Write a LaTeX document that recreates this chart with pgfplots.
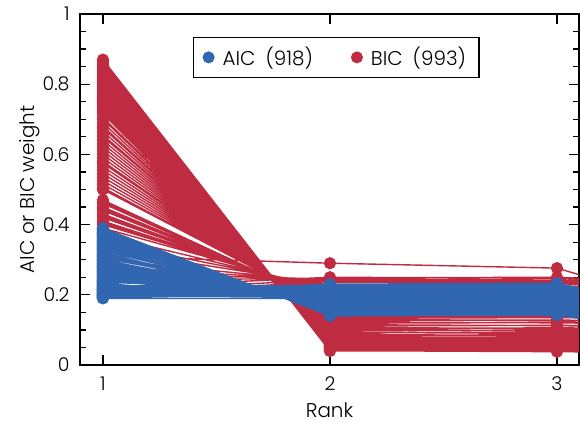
\documentclass[border=0pt]{standalone}
\usepackage{fontspec}
\setmainfont{Poppins}[UprightFont=* Light]
\usepackage{pgfplots}
\pgfplotsset{compat=1.18}
\usepackage{pgfplotstable}
\definecolor{aicblue}{HTML}{3166B0}
\definecolor{bicred}{HTML}{BF2B40}

\pgfplotstableread[row sep=\\]{
x y\\
1 0.870\\ 2 0.040\\ 3 0.042\\ 4 0.035\\ nan nan\\
1 0.865\\ 2 0.041\\ 3 0.038\\ 4 0.033\\ nan nan\\
1 0.860\\ 2 0.042\\ 3 0.045\\ 4 0.040\\ nan nan\\
1 0.855\\ 2 0.044\\ 3 0.041\\ 4 0.036\\ nan nan\\
1 0.850\\ 2 0.045\\ 3 0.048\\ 4 0.043\\ nan nan\\
1 0.845\\ 2 0.046\\ 3 0.043\\ 4 0.038\\ nan nan\\
1 0.840\\ 2 0.047\\ 3 0.050\\ 4 0.045\\ nan nan\\
1 0.835\\ 2 0.048\\ 3 0.046\\ 4 0.041\\ nan nan\\
1 0.830\\ 2 0.049\\ 3 0.053\\ 4 0.048\\ nan nan\\
1 0.825\\ 2 0.051\\ 3 0.049\\ 4 0.044\\ nan nan\\
1 0.820\\ 2 0.052\\ 3 0.056\\ 4 0.051\\ nan nan\\
1 0.815\\ 2 0.053\\ 3 0.051\\ 4 0.046\\ nan nan\\
1 0.810\\ 2 0.054\\ 3 0.058\\ 4 0.053\\ nan nan\\
1 0.805\\ 2 0.055\\ 3 0.053\\ 4 0.048\\ nan nan\\
1 0.800\\ 2 0.056\\ 3 0.060\\ 4 0.055\\ nan nan\\
1 0.795\\ 2 0.058\\ 3 0.055\\ 4 0.050\\ nan nan\\
1 0.790\\ 2 0.059\\ 3 0.063\\ 4 0.058\\ nan nan\\
1 0.785\\ 2 0.060\\ 3 0.058\\ 4 0.053\\ nan nan\\
1 0.780\\ 2 0.061\\ 3 0.065\\ 4 0.060\\ nan nan\\
1 0.775\\ 2 0.062\\ 3 0.060\\ 4 0.055\\ nan nan\\
1 0.770\\ 2 0.063\\ 3 0.067\\ 4 0.062\\ nan nan\\
1 0.765\\ 2 0.065\\ 3 0.062\\ 4 0.057\\ nan nan\\
1 0.760\\ 2 0.066\\ 3 0.070\\ 4 0.065\\ nan nan\\
1 0.755\\ 2 0.067\\ 3 0.064\\ 4 0.059\\ nan nan\\
1 0.750\\ 2 0.068\\ 3 0.072\\ 4 0.067\\ nan nan\\
1 0.745\\ 2 0.069\\ 3 0.066\\ 4 0.061\\ nan nan\\
1 0.740\\ 2 0.070\\ 3 0.074\\ 4 0.069\\ nan nan\\
1 0.735\\ 2 0.072\\ 3 0.069\\ 4 0.064\\ nan nan\\
1 0.730\\ 2 0.073\\ 3 0.077\\ 4 0.072\\ nan nan\\
1 0.725\\ 2 0.074\\ 3 0.071\\ 4 0.066\\ nan nan\\
1 0.720\\ 2 0.075\\ 3 0.079\\ 4 0.074\\ nan nan\\
1 0.715\\ 2 0.077\\ 3 0.081\\ 4 0.075\\ nan nan\\
1 0.705\\ 2 0.081\\ 3 0.078\\ 4 0.072\\ nan nan\\
1 0.700\\ 2 0.083\\ 3 0.087\\ 4 0.081\\ nan nan\\
1 0.690\\ 2 0.087\\ 3 0.084\\ 4 0.078\\ nan nan\\
1 0.680\\ 2 0.091\\ 3 0.094\\ 4 0.088\\ nan nan\\
1 0.675\\ 2 0.093\\ 3 0.090\\ 4 0.084\\ nan nan\\
1 0.665\\ 2 0.097\\ 3 0.100\\ 4 0.094\\ nan nan\\
1 0.655\\ 2 0.101\\ 3 0.098\\ 4 0.092\\ nan nan\\
1 0.650\\ 2 0.103\\ 3 0.106\\ 4 0.100\\ nan nan\\
1 0.640\\ 2 0.107\\ 3 0.104\\ 4 0.098\\ nan nan\\
1 0.630\\ 2 0.111\\ 3 0.113\\ 4 0.107\\ nan nan\\
1 0.620\\ 2 0.115\\ 3 0.112\\ 4 0.106\\ nan nan\\
1 0.610\\ 2 0.119\\ 3 0.121\\ 4 0.115\\ nan nan\\
1 0.600\\ 2 0.123\\ 3 0.120\\ 4 0.114\\ nan nan\\
1 0.590\\ 2 0.127\\ 3 0.128\\ 4 0.122\\ nan nan\\
1 0.580\\ 2 0.131\\ 3 0.126\\ 4 0.120\\ nan nan\\
1 0.575\\ 2 0.133\\ 3 0.135\\ 4 0.129\\ nan nan\\
1 0.565\\ 2 0.137\\ 3 0.139\\ 4 0.133\\ nan nan\\
1 0.555\\ 2 0.141\\ 3 0.143\\ 4 0.137\\ nan nan\\
1 0.545\\ 2 0.145\\ 3 0.148\\ 4 0.142\\ nan nan\\
1 0.535\\ 2 0.149\\ 3 0.152\\ 4 0.146\\ nan nan\\
1 0.525\\ 2 0.153\\ 3 0.156\\ 4 0.150\\ nan nan\\
1 0.515\\ 2 0.157\\ 3 0.160\\ 4 0.154\\ nan nan\\
1 0.505\\ 2 0.161\\ 3 0.164\\ 4 0.158\\ nan nan\\
1 0.500\\ 2 0.163\\ 3 0.166\\ 4 0.160\\ nan nan\\
1 0.470\\ 2 0.170\\ 3 0.172\\ 4 0.166\\ nan nan\\
1 0.465\\ 2 0.172\\ 3 0.175\\ 4 0.169\\ nan nan\\
1 0.460\\ 2 0.175\\ 3 0.178\\ 4 0.172\\ nan nan\\
1 0.450\\ 2 0.180\\ 3 0.182\\ 4 0.176\\ nan nan\\
1 0.445\\ 2 0.182\\ 3 0.185\\ 4 0.179\\ nan nan\\
1 0.440\\ 2 0.185\\ 3 0.188\\ 4 0.182\\ nan nan\\
1 0.430\\ 2 0.190\\ 3 0.192\\ 4 0.186\\ nan nan\\
1 0.425\\ 2 0.192\\ 3 0.195\\ 4 0.189\\ nan nan\\
1 0.420\\ 2 0.195\\ 3 0.198\\ 4 0.192\\ nan nan\\
1 0.410\\ 2 0.200\\ 3 0.202\\ 4 0.196\\ nan nan\\
1 0.405\\ 2 0.202\\ 3 0.205\\ 4 0.199\\ nan nan\\
1 0.400\\ 2 0.205\\ 3 0.208\\ 4 0.202\\ nan nan\\
1 0.390\\ 2 0.210\\ 3 0.205\\ 4 0.180\\ nan nan\\
1 0.370\\ 2 0.215\\ 3 0.210\\ 4 0.185\\ nan nan\\
1 0.350\\ 2 0.222\\ 3 0.220\\ 4 0.195\\ nan nan\\
1 0.330\\ 2 0.228\\ 3 0.226\\ 4 0.200\\ nan nan\\
1 0.310\\ 2 0.290\\ 3 0.276\\ 4 0.085\\ nan nan\\
1 0.300\\ 2 0.236\\ 3 0.232\\ 4 0.205\\ nan nan\\
1 0.280\\ 2 0.240\\ 3 0.238\\ 4 0.210\\ nan nan\\
1 0.260\\ 2 0.245\\ 3 0.242\\ 4 0.215\\ nan nan\\
1 0.240\\ 2 0.248\\ 3 0.250\\ 4 0.220\\ nan nan\\
1 0.220\\ 2 0.250\\ 3 0.247\\ 4 0.218\\ nan nan\\
1 0.210\\ 2 0.243\\ 3 0.240\\ 4 0.212\\ nan nan\\
1 0.200\\ 2 0.238\\ 3 0.235\\ 4 0.208\\ nan nan\\
}\bictab

\pgfplotstableread[row sep=\\]{
x y\\
1 0.390\\ 2 0.140\\ 3 0.143\\ 4 0.052\\ nan nan\\
1 0.388\\ 2 0.142\\ 3 0.146\\ 4 0.053\\ nan nan\\
1 0.385\\ 2 0.141\\ 3 0.145\\ 4 0.053\\ nan nan\\
1 0.380\\ 2 0.144\\ 3 0.142\\ 4 0.051\\ nan nan\\
1 0.378\\ 2 0.146\\ 3 0.148\\ 4 0.054\\ nan nan\\
1 0.375\\ 2 0.147\\ 3 0.150\\ 4 0.055\\ nan nan\\
1 0.373\\ 2 0.149\\ 3 0.152\\ 4 0.056\\ nan nan\\
1 0.370\\ 2 0.146\\ 3 0.144\\ 4 0.052\\ nan nan\\
1 0.368\\ 2 0.150\\ 3 0.153\\ 4 0.057\\ nan nan\\
1 0.365\\ 2 0.152\\ 3 0.155\\ 4 0.058\\ nan nan\\
1 0.360\\ 2 0.149\\ 3 0.146\\ 4 0.053\\ nan nan\\
1 0.358\\ 2 0.154\\ 3 0.151\\ 4 0.056\\ nan nan\\
1 0.355\\ 2 0.158\\ 3 0.161\\ 4 0.061\\ nan nan\\
1 0.353\\ 2 0.155\\ 3 0.158\\ 4 0.059\\ nan nan\\
1 0.350\\ 2 0.152\\ 3 0.149\\ 4 0.055\\ nan nan\\
1 0.348\\ 2 0.157\\ 3 0.160\\ 4 0.060\\ nan nan\\
1 0.345\\ 2 0.162\\ 3 0.165\\ 4 0.063\\ nan nan\\
1 0.340\\ 2 0.155\\ 3 0.152\\ 4 0.056\\ nan nan\\
1 0.338\\ 2 0.161\\ 3 0.158\\ 4 0.059\\ nan nan\\
1 0.335\\ 2 0.168\\ 3 0.171\\ 4 0.066\\ nan nan\\
1 0.333\\ 2 0.163\\ 3 0.166\\ 4 0.063\\ nan nan\\
1 0.330\\ 2 0.158\\ 3 0.155\\ 4 0.058\\ nan nan\\
1 0.328\\ 2 0.165\\ 3 0.168\\ 4 0.064\\ nan nan\\
1 0.325\\ 2 0.173\\ 3 0.176\\ 4 0.068\\ nan nan\\
1 0.320\\ 2 0.161\\ 3 0.158\\ 4 0.059\\ nan nan\\
1 0.318\\ 2 0.170\\ 3 0.167\\ 4 0.063\\ nan nan\\
1 0.315\\ 2 0.178\\ 3 0.181\\ 4 0.071\\ nan nan\\
1 0.313\\ 2 0.169\\ 3 0.172\\ 4 0.066\\ nan nan\\
1 0.310\\ 2 0.165\\ 3 0.162\\ 4 0.061\\ nan nan\\
1 0.308\\ 2 0.175\\ 3 0.178\\ 4 0.069\\ nan nan\\
1 0.305\\ 2 0.183\\ 3 0.186\\ 4 0.073\\ nan nan\\
1 0.300\\ 2 0.168\\ 3 0.165\\ 4 0.063\\ nan nan\\
1 0.298\\ 2 0.179\\ 3 0.176\\ 4 0.068\\ nan nan\\
1 0.295\\ 2 0.189\\ 3 0.192\\ 4 0.076\\ nan nan\\
1 0.293\\ 2 0.177\\ 3 0.180\\ 4 0.070\\ nan nan\\
1 0.290\\ 2 0.172\\ 3 0.169\\ 4 0.065\\ nan nan\\
1 0.288\\ 2 0.184\\ 3 0.187\\ 4 0.073\\ nan nan\\
1 0.285\\ 2 0.194\\ 3 0.197\\ 4 0.079\\ nan nan\\
1 0.283\\ 2 0.181\\ 3 0.184\\ 4 0.072\\ nan nan\\
1 0.280\\ 2 0.176\\ 3 0.173\\ 4 0.067\\ nan nan\\
1 0.278\\ 2 0.188\\ 3 0.185\\ 4 0.072\\ nan nan\\
1 0.275\\ 2 0.200\\ 3 0.203\\ 4 0.082\\ nan nan\\
1 0.272\\ 2 0.187\\ 3 0.190\\ 4 0.075\\ nan nan\\
1 0.270\\ 2 0.179\\ 3 0.176\\ 4 0.068\\ nan nan\\
1 0.268\\ 2 0.193\\ 3 0.196\\ 4 0.078\\ nan nan\\
1 0.265\\ 2 0.205\\ 3 0.208\\ 4 0.084\\ nan nan\\
1 0.262\\ 2 0.192\\ 3 0.189\\ 4 0.075\\ nan nan\\
1 0.260\\ 2 0.183\\ 3 0.180\\ 4 0.070\\ nan nan\\
1 0.258\\ 2 0.197\\ 3 0.194\\ 4 0.077\\ nan nan\\
1 0.255\\ 2 0.210\\ 3 0.213\\ 4 0.087\\ nan nan\\
1 0.253\\ 2 0.191\\ 3 0.194\\ 4 0.077\\ nan nan\\
1 0.250\\ 2 0.186\\ 3 0.183\\ 4 0.072\\ nan nan\\
1 0.248\\ 2 0.202\\ 3 0.205\\ 4 0.082\\ nan nan\\
1 0.245\\ 2 0.215\\ 3 0.218\\ 4 0.089\\ nan nan\\
1 0.242\\ 2 0.200\\ 3 0.197\\ 4 0.079\\ nan nan\\
1 0.240\\ 2 0.190\\ 3 0.187\\ 4 0.074\\ nan nan\\
1 0.238\\ 2 0.206\\ 3 0.203\\ 4 0.081\\ nan nan\\
1 0.235\\ 2 0.222\\ 3 0.225\\ 4 0.093\\ nan nan\\
1 0.232\\ 2 0.184\\ 3 0.181\\ 4 0.071\\ nan nan\\
1 0.230\\ 2 0.193\\ 3 0.190\\ 4 0.075\\ nan nan\\
1 0.228\\ 2 0.210\\ 3 0.213\\ 4 0.086\\ nan nan\\
1 0.227\\ 2 0.204\\ 3 0.207\\ 4 0.083\\ nan nan\\
1 0.225\\ 2 0.226\\ 3 0.229\\ 4 0.095\\ nan nan\\
1 0.222\\ 2 0.213\\ 3 0.210\\ 4 0.085\\ nan nan\\
1 0.220\\ 2 0.197\\ 3 0.194\\ 4 0.077\\ nan nan\\
1 0.218\\ 2 0.218\\ 3 0.215\\ 4 0.087\\ nan nan\\
1 0.217\\ 2 0.207\\ 3 0.204\\ 4 0.082\\ nan nan\\
1 0.215\\ 2 0.228\\ 3 0.231\\ 4 0.096\\ nan nan\\
1 0.213\\ 2 0.225\\ 3 0.222\\ 4 0.091\\ nan nan\\
1 0.212\\ 2 0.188\\ 3 0.185\\ 4 0.073\\ nan nan\\
1 0.210\\ 2 0.201\\ 3 0.198\\ 4 0.079\\ nan nan\\
1 0.208\\ 2 0.222\\ 3 0.225\\ 4 0.092\\ nan nan\\
1 0.207\\ 2 0.216\\ 3 0.219\\ 4 0.090\\ nan nan\\
1 0.205\\ 2 0.230\\ 3 0.233\\ 4 0.097\\ nan nan\\
1 0.203\\ 2 0.193\\ 3 0.196\\ 4 0.078\\ nan nan\\
1 0.202\\ 2 0.212\\ 3 0.215\\ 4 0.088\\ nan nan\\
1 0.200\\ 2 0.205\\ 3 0.202\\ 4 0.081\\ nan nan\\
1 0.199\\ 2 0.224\\ 3 0.227\\ 4 0.094\\ nan nan\\
1 0.198\\ 2 0.200\\ 3 0.210\\ 4 0.085\\ nan nan\\
1 0.197\\ 2 0.195\\ 3 0.198\\ 4 0.079\\ nan nan\\
1 0.195\\ 2 0.218\\ 3 0.221\\ 4 0.091\\ nan nan\\
1 0.194\\ 2 0.209\\ 3 0.206\\ 4 0.083\\ nan nan\\
1 0.193\\ 2 0.203\\ 3 0.200\\ 4 0.080\\ nan nan\\
1 0.192\\ 2 0.226\\ 3 0.229\\ 4 0.095\\ nan nan\\
1 0.191\\ 2 0.214\\ 3 0.212\\ 4 0.086\\ nan nan\\
1 0.190\\ 2 0.190\\ 3 0.193\\ 4 0.077\\ nan nan\\
}\aictab

\begin{document}
\begin{tikzpicture}
\begin{axis}[
  name=ax, at={(0,0)}, anchor=south west,
  scale only axis, width=249.5bp, height=175.5bp,
  xmin=0.899, xmax=3.097, ymin=0, ymax=1,
  xtick={1,2,3}, ytick={0,0.2,0.4,0.6,0.8,1},
  minor y tick num=3,
  xtick pos=both, ytick pos=both,
  xticklabel pos=lower, yticklabel pos=left,
  tick align=inside,
  major tick length=5bp, minor tick length=3bp,
  every tick/.style={black, line width=0.6bp},
  axis line style={line width=0.75bp},
  /pgf/number format/assume math mode=true,
  tick label style={font=\fontsize{9.5}{11}\selectfont},
  xticklabel style={yshift=-2.5bp},
  yticklabel style={xshift=-1.7bp},
  xlabel={Rank}, ylabel={AIC or BIC weight},
  every axis x label/.style={at={(axis description cs:0.5,-0.1282)}, anchor=center, font=\fontsize{10}{12}\selectfont},
  every axis y label/.style={at={(axis description cs:-0.1002,0.5)}, rotate=90, anchor=center, font=\fontsize{10}{12}\selectfont},
  clip marker paths=true,
  unbounded coords=jump,
  legend columns=2,
  legend cell align=left,
  legend image code/.code={\fill[#1] (2.7bp,0bp) circle (2.7bp);},
  legend style={at={(0.2265,0.9345)}, anchor=north west, draw=black,
    line width=0.6bp, font=\fontsize{10}{12}\selectfont,
    inner xsep=4.5bp, inner ysep=2.5bp,
    /tikz/every even column/.append style={column sep=17bp}},
]
\addplot[bicred, line width=0.7bp, mark=*, mark size=2.7bp, forget plot] table {\bictab};
\addplot[aicblue, line width=0.75bp, mark=*, mark size=2.7bp, forget plot] table {\aictab};
\addlegendimage{aicblue}
\addlegendentry{\hspace{2bp}AIC\hspace{5bp}(918)}
\addlegendimage{bicred}
\addlegendentry{\hspace{2bp}BIC\hspace{5bp}(993)}
\end{axis}
\pgfresetboundingbox
\path ([xshift=-40bp,yshift=-29bp]ax.south west) rectangle ([xshift=0.5bp,yshift=7bp]ax.north east);
\end{tikzpicture}
\end{document}
